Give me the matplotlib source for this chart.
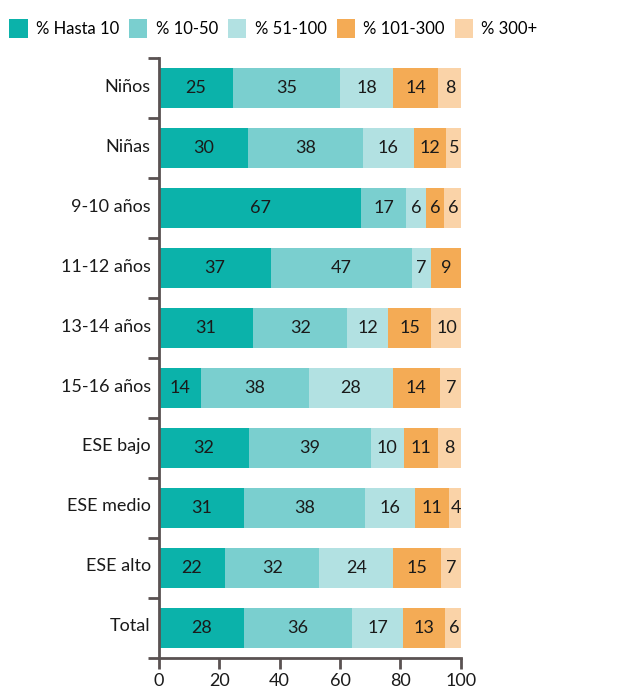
import matplotlib.pyplot as plt
import numpy as np

plt.rcParams['font.family'] = ['Lato', 'DejaVu Sans']

categories = ["Niños", "Niñas", "9-10 años", "11-12 años", "13-14 años",
              "15-16 años", "ESE bajo", "ESE medio", "ESE alto", "Total"]
series = ["% Hasta 10", "% 10-50", "% 51-100", "% 101-300", "% 300+"]
colors = ["#0bb2aa", "#7acfcf", "#b2e1e2", "#f4ab55", "#fad3a8"]

# segment widths as drawn in the picture
hasta10 = [24.5, 29.5, 67.0, 37.1, 31.2, 13.9, 29.8, 28.2, 21.9, 28.2]
d10_50 = [35.5, 38.1, 14.9, 46.7, 31.2, 35.8, 40.4, 40.1, 31.2, 35.8]
d51_100 = [17.6, 16.9, 6.6, 6.3, 13.6, 27.8, 10.9, 16.6, 24.5, 16.9]
d101_300 = [14.9, 10.6, 6.0, 10.3, 14.3, 15.6, 11.3, 11.3, 15.9, 13.9]
d300 = [7.9, 5.6, 5.9, 0.0, 10.3, 7.6, 7.9, 4.3, 7.0, 6.0]

# printed labels
lab_hasta10 = [25, 30, 67, 37, 31, 14, 32, 31, 22, 28]
lab_10_50 = [35, 38, 17, 47, 32, 38, 39, 38, 32, 36]
lab_51_100 = [18, 16, 6, 7, 12, 28, 10, 16, 24, 17]
lab_101_300 = [14, 12, 6, 9, 15, 14, 11, 11, 15, 13]
lab_300 = [8, 5, 6, None, 10, 7, 8, 4, 7, 6]

widths = [hasta10, d10_50, d51_100, d101_300, d300]
labels = [lab_hasta10, lab_10_50, lab_51_100, lab_101_300, lab_300]

fs = 13

fig = plt.figure(figsize=(6.22, 6.91), dpi=100)
ax = fig.add_axes([0.2556, 0.0478, 0.4851, 0.8682])

y = np.arange(len(categories))
left = np.zeros(len(categories))
for name, w, lab, c in zip(series, widths, labels, colors):
    w = np.array(w)
    ax.barh(y, w, left=left, height=0.68, color=c, label=name)
    for i in range(len(categories)):
        if lab[i] is not None and w[i] > 0:
            ax.text(left[i] + w[i] / 2, y[i], str(lab[i]), ha="center",
                    va="center", fontsize=fs, color="#1a1a1a")
    left += w

ax.set_ylim(len(categories) - 0.5, -0.5)
ax.set_xlim(0, 100)
ax.set_xticks([0, 20, 40, 60, 80, 100])
ax.set_yticks(np.arange(len(categories) + 1) - 0.5)
ax.set_yticklabels([])
ax.set_yticks(y - 0.05, minor=True)
ax.set_yticklabels(categories, minor=True)
ax.tick_params(axis="y", which="minor", length=0, labelsize=fs, pad=6,
               labelcolor="#1a1a1a")
ax.tick_params(axis="y", which="major", length=8, width=2, color="#5a5252")
ax.tick_params(axis="x", length=8, width=2, color="#5a5252", labelsize=fs,
               labelcolor="#1a1a1a", pad=3)
for s in ["top", "right"]:
    ax.spines[s].set_visible(False)
for s in ["left", "bottom"]:
    ax.spines[s].set_linewidth(2)
    ax.spines[s].set_color("#5a5252")

fig.legend(loc="upper left", bbox_to_anchor=(-0.004, 0.99), ncol=5,
           frameon=False, handlelength=1.1, handleheight=1.4,
           handletextpad=0.5, columnspacing=0.6, fontsize=12,
           borderaxespad=0.3)

fig.savefig("out.png", dpi=100)
